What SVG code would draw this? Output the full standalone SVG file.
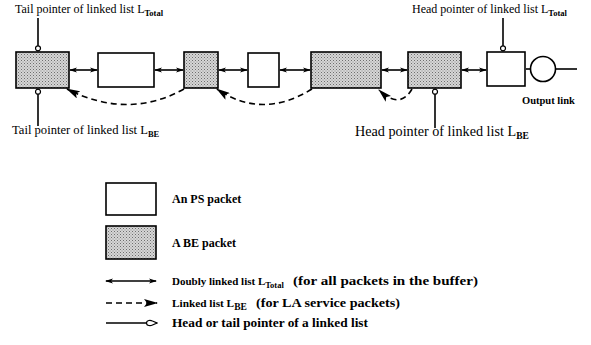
<svg xmlns="http://www.w3.org/2000/svg" width="591" height="345" viewBox="0 0 591 345">
<defs>
<pattern id="dots" width="3" height="3" patternUnits="userSpaceOnUse">
<rect width="3" height="3" fill="#d6d6d6"/>
<rect x="0" y="0" width="1" height="1" fill="#6e6e6e"/>
<rect x="1.5" y="1.5" width="1" height="1" fill="#8a8a8a"/>
</pattern>
<marker id="dbl" viewBox="0 0 8 6" refX="7" refY="3" markerWidth="8" markerHeight="6" markerUnits="userSpaceOnUse" orient="auto-start-reverse">
<path d="M0,0.5 L8,3 L0,5.5 L2,3 Z" fill="#000"/>
</marker>
<marker id="big" viewBox="0 0 14 8" refX="13" refY="4" markerWidth="14" markerHeight="8" markerUnits="userSpaceOnUse" orient="auto">
<path d="M0,0 L14,4 L0,8 L3,4 Z" fill="#000"/>
</marker>
<marker id="ptr" viewBox="0 0 7 7" refX="6.2" refY="3.5" markerWidth="7" markerHeight="7" markerUnits="userSpaceOnUse" orient="auto">
<circle cx="3.5" cy="3.5" r="2.5" fill="#fff" stroke="#000" stroke-width="1.2"/>
</marker>
<marker id="ptrL" viewBox="0 0 12 8" refX="11.5" refY="4" markerWidth="12" markerHeight="8" markerUnits="userSpaceOnUse" orient="auto">
<path d="M1,4 C1,1 5,1 7,2 L11.5,4 L7,6 C5,7 1,7 1,4 Z" fill="#fff" stroke="#000" stroke-width="1.2"/>
</marker>
</defs>
<style>
.box{stroke:#000;stroke-width:1.6}
.ps{fill:#fff}
.be{fill:url(#dots)}
.lnk{stroke:#000;stroke-width:1.6;fill:none;marker-start:url(#dbl);marker-end:url(#dbl)}
.dash{stroke:#000;stroke-width:1.6;fill:none;stroke-dasharray:6 4;marker-end:url(#big)}
.pt{stroke:#000;stroke-width:1.6;fill:none;marker-end:url(#ptr)}
text{font-family:"Liberation Serif","Times New Roman",serif;font-size:12px;fill:#000}
.b{font-weight:bold}
.sub{font-size:8.5px;font-weight:bold}
</style>
<g id="connectors">
<line class="lnk" x1="70" y1="70" x2="97" y2="70"/>
<line class="lnk" x1="155" y1="70" x2="183" y2="70"/>
<line class="lnk" x1="219" y1="70" x2="247" y2="70"/>
<line class="lnk" x1="280" y1="70" x2="310" y2="70"/>
<line class="lnk" x1="382" y1="70" x2="407" y2="70"/>
<line class="lnk" x1="462" y1="70" x2="486" y2="70"/>
<line x1="526" y1="69" x2="530" y2="69" stroke="#000" stroke-width="1.6"/>
<line x1="556" y1="69" x2="577" y2="69" stroke="#000" stroke-width="1.6"/>
<path class="dash" d="M184,89 Q128,120 67,89"/>
<path class="dash" d="M312,89 Q262,120 217,89"/>
<path class="dash" d="M412,89 Q400,110 379,90"/>
<line class="pt" x1="38" y1="18" x2="38" y2="51"/>
<line class="pt" x1="38" y1="126" x2="38" y2="89"/>
<line class="pt" x1="503" y1="18" x2="503" y2="51"/>
<line class="pt" x1="435" y1="128" x2="435" y2="89"/>
</g>
<g id="n1"><rect class="box be" x="16" y="52" width="53" height="36"/></g>
<g id="n2"><rect class="box ps" x="98" y="53" width="56" height="34"/></g>
<g id="n3"><rect class="box be" x="184" y="52" width="34" height="36"/></g>
<g id="n4"><rect class="box ps" x="248" y="53" width="31" height="34"/></g>
<g id="n5"><rect class="box be" x="311" y="52" width="70" height="36"/></g>
<g id="n6"><rect class="box be" x="408" y="52" width="53" height="36"/></g>
<g id="n7"><rect class="box ps" x="487" y="52" width="38" height="34"/></g>
<g id="server"><circle cx="543" cy="69" r="12.5" fill="#fff" stroke="#000" stroke-width="1.6"/></g>
<g id="labels">
<text x="15" y="13">Tail pointer of linked list L<tspan class="sub" dy="3">Total</tspan></text>
<text x="412" y="13">Head pointer of linked list L<tspan class="sub" dy="3">Total</tspan></text>
<text x="12" y="134" style="font-size:12.6px">Tail pointer of linked list L<tspan class="sub" dy="3">BE</tspan></text>
<text x="355" y="136" style="font-size:14.2px">Head pointer of linked list L<tspan class="sub" dy="3" style="font-size:9.5px">BE</tspan></text>
<text class="b" x="522" y="104" style="font-size:10.5px">Output link</text>
</g>
<g id="legend">
<rect class="box ps" x="106" y="183" width="50" height="32"/>
<text class="b" x="172" y="203">An PS packet</text>
<rect class="box be" x="106" y="226" width="50" height="33"/>
<text class="b" x="172" y="247">A BE packet</text>
<line class="lnk" x1="106" y1="281" x2="156" y2="281"/>
<text class="b" x="172" y="285" style="font-size:11px">Doubly linked list L<tspan class="sub" dy="3">Total</tspan></text>
<text class="b" x="293" y="285" textLength="185" lengthAdjust="spacingAndGlyphs">(for all packets in the buffer)</text>
<path class="dash" d="M106,303 L157,303"/>
<text class="b" x="172" y="307" style="font-size:11.3px">Linked list L<tspan class="sub" dy="3" style="font-size:9.5px">BE</tspan></text>
<text class="b" x="256" y="307" textLength="144" lengthAdjust="spacingAndGlyphs">(for LA service packets)</text>
<line x1="106" y1="323" x2="157" y2="323" stroke="#000" stroke-width="1.6" marker-end="url(#ptrL)"/>
<text class="b" x="172" y="327" textLength="196" lengthAdjust="spacingAndGlyphs">Head or tail pointer of a linked list</text>
</g>
</svg>
